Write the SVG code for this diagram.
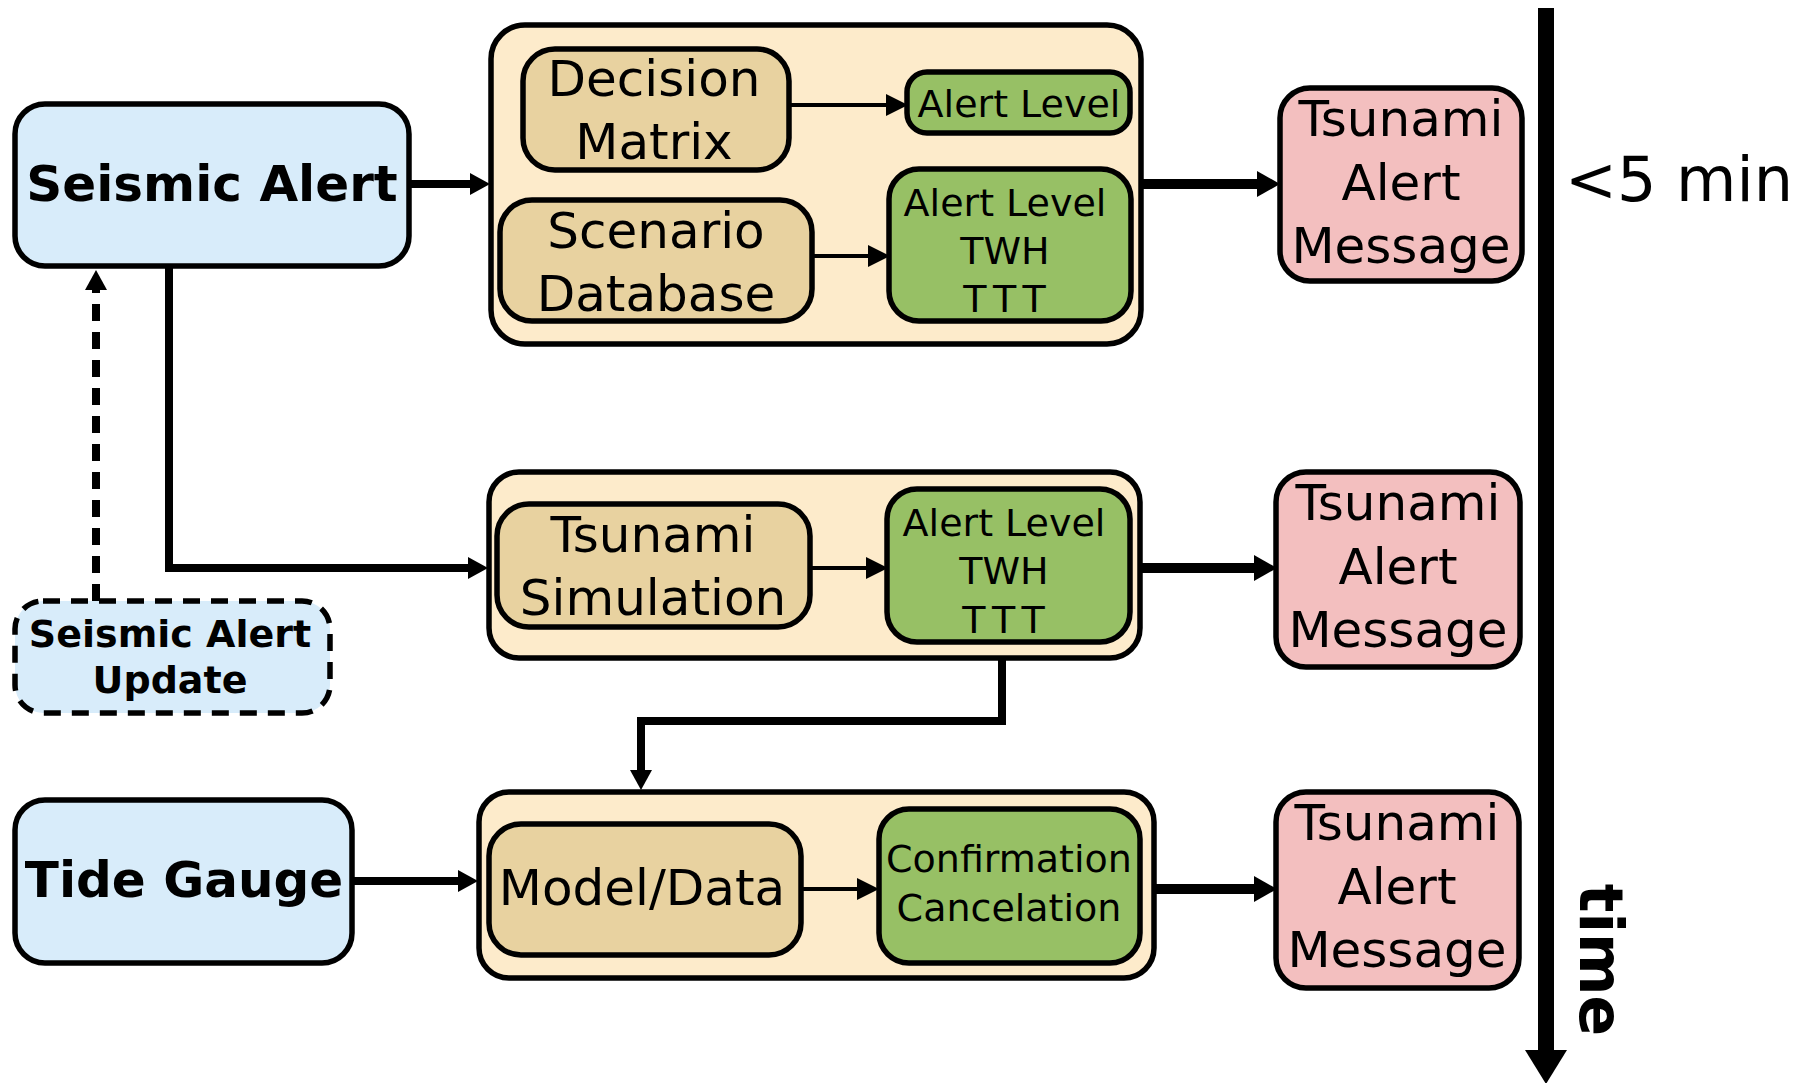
<svg xmlns="http://www.w3.org/2000/svg" width="1811" height="1083" viewBox="0 0 1811 1083">
  <style>
    text { font-family: "DejaVu Sans", "Liberation Sans", sans-serif; fill: #000; text-anchor: middle; }
    .big { font-size: 50px; }
    .small { font-size: 38px; }
    .bold { font-weight: bold; }
    .spaced { letter-spacing: 7px; }
    .box { stroke: #000; stroke-width: 5.5; }
    .source { fill: #d8ecfa; }
    .stage { fill: #fdebcb; }
    .proc { fill: #e8d2a0; }
    .result { fill: #97c065; }
    .msg { fill: #f3bfbf; }
    .dash { stroke-dasharray: 17 11; }
    .wire { fill: none; stroke: #000; }
    .w-thin { stroke-width: 4; }
    .w-mid { stroke-width: 8; }
    .w-thick { stroke-width: 10; }
  </style>
  <defs>
    <marker id="ah-thin" markerUnits="userSpaceOnUse" markerWidth="22" markerHeight="22" refX="10" refY="11" orient="auto">
      <path d="M0,0 L22,11 L0,22 z" fill="#000"/>
    </marker>
    <marker id="ah-mid" markerUnits="userSpaceOnUse" markerWidth="20" markerHeight="22" refX="10" refY="11" orient="auto">
      <path d="M0,0 L20,11 L0,22 z" fill="#000"/>
    </marker>
    <marker id="ah-thick" markerUnits="userSpaceOnUse" markerWidth="23" markerHeight="26" refX="11" refY="13" orient="auto">
      <path d="M0,0 L23,13 L0,26 z" fill="#000"/>
    </marker>
    <marker id="ah-time" markerUnits="userSpaceOnUse" markerWidth="34" markerHeight="42" refX="10" refY="21" orient="auto">
      <path d="M0,0 L34,21 L0,42 z" fill="#000"/>
    </marker>
  </defs>

  <!-- stage containers (drawn first, under their inner boxes) -->
  <g id="stage-initial">
    <rect class="box stage" x="491" y="25" width="650" height="319" rx="34"/>
  </g>
  <g id="stage-simulation">
    <rect class="box stage" x="489" y="472" width="651" height="186" rx="30"/>
  </g>
  <g id="stage-confirmation">
    <rect class="box stage" x="479" y="792" width="675" height="186" rx="30"/>
  </g>

  <!-- connectors -->
  <g id="connectors">
    <path class="wire w-mid" d="M409,184 H480" marker-end="url(#ah-mid)"/>
    <path class="wire w-thin" d="M789,105 H896" marker-end="url(#ah-thin)"/>
    <path class="wire w-thin" d="M812,256 H878" marker-end="url(#ah-thin)"/>
    <path class="wire w-thick" d="M1141,184 H1268" marker-end="url(#ah-thick)"/>
    <path class="wire w-mid" d="M169,266 V568 H478" marker-end="url(#ah-mid)"/>
    <path class="wire w-mid dash" d="M96,601 V280" marker-end="url(#ah-mid)"/>
    <path class="wire w-thin" d="M810,568 H876" marker-end="url(#ah-thin)"/>
    <path class="wire w-thick" d="M1140,568 H1265" marker-end="url(#ah-thick)"/>
    <path class="wire w-mid" d="M1002,658 V721 H641 V780" marker-end="url(#ah-mid)"/>
    <path class="wire w-mid" d="M352,881 H468" marker-end="url(#ah-mid)"/>
    <path class="wire w-thin" d="M800,889 H867" marker-end="url(#ah-thin)"/>
    <path class="wire w-thick" d="M1154,889 H1265" marker-end="url(#ah-thick)"/>
    <path class="wire" stroke-width="16" d="M1546,8 V1060" marker-end="url(#ah-time)"/>
  </g>

  <!-- sources -->
  <g id="seismic-alert">
    <rect class="box source" x="15" y="104" width="394" height="162" rx="30"/>
    <text class="big bold" x="212" y="201">Seismic Alert</text>
  </g>
  <g id="seismic-alert-update">
    <rect class="box source dash" x="15" y="601" width="315" height="112" rx="28"/>
    <text class="small bold" x="170" y="647">Seismic Alert</text>
    <text class="small bold" x="170" y="693">Update</text>
  </g>
  <g id="tide-gauge">
    <rect class="box source" x="15" y="800" width="337" height="163" rx="30"/>
    <text class="big bold" x="184" y="897">Tide Gauge</text>
  </g>

  <!-- initial assessment -->
  <g id="decision-matrix">
    <rect class="box proc" x="523" y="49" width="266" height="121" rx="32"/>
    <text class="big" x="654" y="96">Decision</text>
    <text class="big" x="654" y="159">Matrix</text>
  </g>
  <g id="alert-level-dm">
    <rect class="box result" x="907" y="72" width="223" height="61" rx="20"/>
    <text class="small" x="1019" y="117">Alert Level</text>
  </g>
  <g id="scenario-database">
    <rect class="box proc" x="500" y="200" width="312" height="121" rx="32"/>
    <text class="big" x="656" y="248">Scenario</text>
    <text class="big" x="656" y="311">Database</text>
  </g>
  <g id="alert-level-sdb">
    <rect class="box result" x="889" y="169" width="242" height="152" rx="30"/>
    <text class="small" x="1005" y="216">Alert Level</text>
    <text class="small" x="1005" y="264">TWH</text>
    <text class="small spaced" x="1008" y="312">TTT</text>
  </g>

  <!-- simulation -->
  <g id="tsunami-simulation">
    <rect class="box proc" x="497" y="504" width="313" height="123" rx="32"/>
    <text class="big" x="653" y="552">Tsunami</text>
    <text class="big" x="653" y="615">Simulation</text>
  </g>
  <g id="alert-level-sim">
    <rect class="box result" x="887" y="489" width="243" height="153" rx="30"/>
    <text class="small" x="1004" y="536">Alert Level</text>
    <text class="small" x="1004" y="584">TWH</text>
    <text class="small spaced" x="1007" y="633">TTT</text>
  </g>

  <!-- confirmation -->
  <g id="model-data">
    <rect class="box proc" x="489" y="824" width="312" height="131" rx="32"/>
    <text class="big" x="642" y="905">Model/Data</text>
  </g>
  <g id="confirmation-cancelation">
    <rect class="box result" x="879" y="809" width="261" height="154" rx="30"/>
    <text class="small" x="1009" y="872">Confirmation</text>
    <text class="small" x="1009" y="921">Cancelation</text>
  </g>

  <!-- outgoing messages -->
  <g id="message-1">
    <rect class="box msg" x="1280" y="88" width="242" height="193" rx="30"/>
    <text class="big" x="1401" y="136">Tsunami</text>
    <text class="big" x="1401" y="200">Alert</text>
    <text class="big" x="1401" y="263">Message</text>
  </g>
  <g id="message-2">
    <rect class="box msg" x="1276" y="472" width="244" height="195" rx="30"/>
    <text class="big" x="1398" y="520">Tsunami</text>
    <text class="big" x="1398" y="584">Alert</text>
    <text class="big" x="1398" y="647">Message</text>
  </g>
  <g id="message-3">
    <rect class="box msg" x="1276" y="792" width="243" height="196" rx="30"/>
    <text class="big" x="1397" y="840">Tsunami</text>
    <text class="big" x="1397" y="904">Alert</text>
    <text class="big" x="1397" y="967">Message</text>
  </g>

  <!-- time axis labels -->
  <g id="time-labels">
    <text x="1679" y="201" style="font-size:62px">&lt;5 min</text>
    <text class="bold" x="0" y="0" style="font-size:60px" transform="translate(1580,960) rotate(90)">time</text>
  </g>
</svg>
